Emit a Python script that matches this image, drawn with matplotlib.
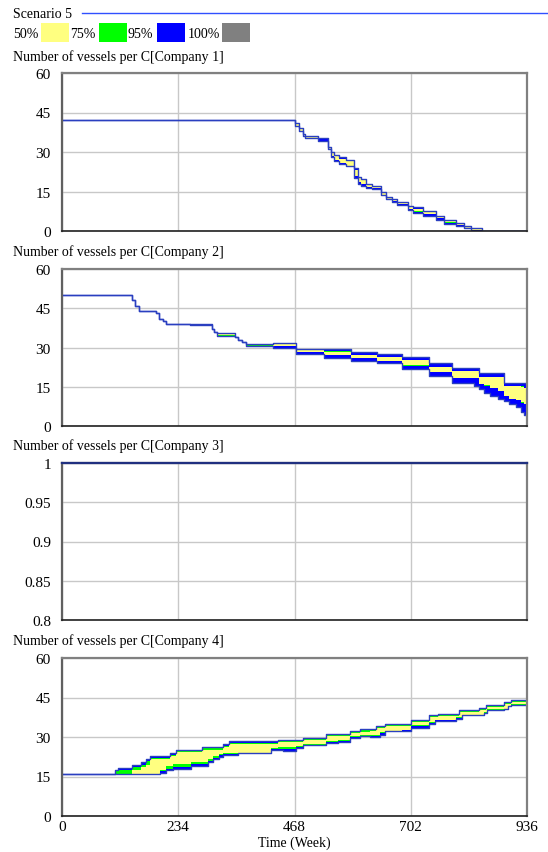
import matplotlib.pyplot as plt
from matplotlib.patches import Rectangle
from matplotlib.lines import Line2D

plt.rcParams['font.family'] = ['Liberation Serif', 'DejaVu Serif']

SCENARIO = "Scenario 5"
BAND_LABELS = ["50%", "75%", "95%", "100%"]
BAND_COLORS = ["#ffff80", "#00ff00", "#0000ff", "#808080"]
TITLES = [
    "Number of vessels per C[Company 1]",
    "Number of vessels per C[Company 2]",
    "Number of vessels per C[Company 3]",
    "Number of vessels per C[Company 4]",
]
X_TICKS = [0, 234, 468, 702, 936]

# Company 1: week of each step, then band edges (hi95, hi75, hi50, lo50, lo75, lo95)
weeks_c1 = [0, 468, 478, 485, 490, 515, 535, 542, 548, 558, 572, 588, 595, 602,
            612, 625, 642, 652, 665, 675, 696, 706, 726, 753, 769, 793, 809,
            823, 846, 936]
c1_hi95 = [42, 41, 39, 37, 36.2, 35.2, 32, 30, 28.7, 28, 27, 24, 20.5, 19.6,
           18, 17.2, 14.8, 12.8, 12.2, 11.2, 9.6, 9, 7.6, 5.6, 4.3, 3.2, 2,
           1.3, 0, 0]
c1_hi75 = [42, 41, 39, 37, 36.2, 35.2, 32, 30, 28.5, 27.5, 26.5, 23, 20, 19.4,
           17.8, 17, 14.5, 12.5, 12, 11, 9.3, 8.5, 7.4, 5.4, 3.8, 2.7, 1.6,
           0.7, 0, 0]
c1_hi50 = [42, 41, 39, 37, 36.2, 35.2, 32, 30, 28.5, 27.5, 26.5, 23, 20, 19.4,
           17.8, 17, 14.5, 12.5, 12, 11, 9.3, 8.5, 7.4, 5.4, 3.8, 2.7, 1.6,
           0.7, 0, 0]
c1_lo50 = [42, 40, 38, 36, 35.2, 35, 31, 28.5, 27, 26, 24.8, 21, 18.5, 17.8,
           16.8, 16.3, 13.8, 12.3, 11.5, 10.2, 8.5, 7.5, 6.6, 4.9, 3.3, 2.3, 1.3,
           0.3, 0, 0]
c1_lo75 = [42, 40, 38, 36, 35.2, 35, 31, 28.5, 27, 26, 24.8, 21, 18.5, 17.8,
           16.8, 16.3, 13.8, 12.3, 11.5, 10.2, 8.5, 7.4, 6.5, 4.8, 3.2, 2.2, 1.2,
           0.2, 0, 0]
c1_lo95 = [42, 40, 38, 36, 35.2, 34.3, 31, 28, 26.5, 25.5, 24.5, 20, 18, 17,
           16.3, 16, 13.5, 12, 11, 10, 8, 6.8, 5.8, 4.2, 2.7, 1.8, 1,
           0, 0, 0]

# Company 2
weeks_c2 = [0, 140, 147, 155, 190, 195, 203, 209, 257, 301, 305, 311, 348, 355,
            362, 371, 425, 471, 528, 582, 635, 685, 739, 786, 830, 840, 850,
            862, 878, 890, 900, 913, 923, 930, 936]
c2_hi95 = [50, 48, 46, 44, 43, 41, 40, 39, 39, 37, 36, 35.5, 34, 33,
           32, 31.5, 31.7, 29.6, 29.4, 28.4, 27.5, 26.4, 24.2, 22.1, 22.1, 20.2, 20.2,
           20.2, 20.2, 16.5, 16.5, 16.5, 16.5, 16.5, 16.5]
c2_hi75 = [50, 48, 46, 44, 43, 41, 40, 39, 39, 37, 36, 35.5, 34, 33,
           32, 31.3, 31.3, 29.5, 28.5, 27.2, 26.4, 25.2, 22.6, 21.0, 21.0, 18.9, 18.9,
           18.9, 18.9, 15.3, 15.3, 15.3, 15.1, 14.6, 14.6]
c2_hi50 = [50, 48, 46, 44, 43, 41, 40, 39, 39, 37, 36, 35.5, 34, 33,
           32, 31.3, 31.2, 29.4, 28.4, 27.1, 26.3, 25.1, 22.5, 20.9, 20.9, 18.8, 18.8,
           18.8, 18.8, 15.2, 15.2, 15.2, 15, 14.5, 14.5]
c2_lo50 = [50, 48, 46, 44, 43, 41, 40, 39, 38.5, 37, 36, 34.6, 34, 33,
           32, 30.8, 30.5, 28.4, 27.1, 26.1, 25, 23.2, 20.6, 18.4, 18.4, 16, 15.5,
           14.5, 13.5, 11.5, 10.5, 10, 9, 8.5, 8.5]
c2_lo75 = [50, 48, 46, 44, 43, 41, 40, 39, 38.5, 37, 36, 34.5, 34, 33,
           32, 30.7, 30.4, 28.3, 27.0, 26.0, 24.9, 23.1, 20.5, 18.3, 18.3, 15.9, 15.4,
           14.4, 13.4, 11.4, 10.4, 9.9, 8.9, 8.4, 8.4]
c2_lo95 = [50, 48, 46, 44, 43, 41, 40, 39, 38.5, 37, 36, 34.5, 34, 33,
           32, 30.7, 29.7, 27.7, 26.1, 25, 23.9, 21.7, 19, 16.5, 15.2, 14, 12.8,
           11.5, 10.2, 9.6, 8.4, 7.1, 5.5, 4.3, 4.3]

# Company 3 stays at one vessel for the whole run
weeks_c3 = [0, 936]
c3_value = [1, 1]

# Company 4
weeks_c4 = [0, 106, 113, 140, 160, 169, 177, 197, 209, 217, 224, 230, 260, 281,
            294, 304, 317, 325, 337, 354, 421, 434, 445, 471, 486, 532, 555,
            580, 600, 620, 632, 640, 650, 684, 702, 739, 750, 756, 793, 800,
            806, 840, 850, 853, 856, 890, 897, 903, 936]
c4_hi95 = [16, 17.5, 18.3, 19.2, 20.5, 21.7, 22.6, 22.6, 22.6, 23.9, 23.9, 25.2, 25.2, 26.2,
           26.2, 26.2, 26.2, 27.2, 28.3, 28.3, 28.3, 29, 29, 29, 29.7, 31.3, 31.3,
           32.2, 32.9, 33.2, 34.2, 34.2, 35.1, 35.1, 36.4, 38.5, 38.5, 38.9, 38.9, 40.2,
           40.2, 41.1, 41.1, 42.1, 42.1, 43.3, 43.3, 44.2, 44.2]
c4_hi75 = [16, 17, 17.3, 18.5, 19.5, 21, 22, 22, 22, 23.3, 23.3, 24.7, 24.7, 25.7,
           25.7, 25.7, 25.7, 26.7, 27.9, 27.9, 27.9, 28.5, 28.5, 28.5, 29.2, 30.8, 30.8,
           31.8, 32.5, 32.8, 33.8, 33.8, 34.7, 34.7, 36, 38.1, 38.1, 38.5, 38.5, 39.8,
           39.8, 40.7, 40.7, 41.7, 41.7, 42.9, 42.9, 43.8, 43.8]
c4_hi50 = [16, 16, 16, 17.5, 18.5, 19.5, 21.5, 21.5, 21.5, 22.8, 22.8, 24.2, 24.2, 25.2,
           25.2, 25.2, 25.2, 26.3, 27.2, 27.2, 27.2, 28, 28, 28, 28.8, 30.3, 30.3,
           31.5, 32, 32.4, 33.4, 33.4, 34.3, 34.3, 35.6, 37.7, 37.7, 38.1, 38.1, 39.4,
           39.4, 40.3, 40.3, 41.3, 41.3, 42.5, 42.5, 43.4, 43.4]
c4_lo50 = [16, 16, 16, 16, 16, 16, 16, 17.5, 19, 19, 19.6, 19.6, 20.5, 20.5,
           21.5, 22.6, 23.5, 23.9, 24, 24.1, 26, 26.2, 26.2, 26.5, 27.2, 28.3, 28.8,
           30.4, 30.8, 30.8, 30.8, 31.9, 32.2, 32.8, 34.4, 35.6, 36.6, 36.6, 37.6, 37.6,
           38.5, 38.5, 39.5, 39.5, 40.5, 40.8, 41.9, 42.5, 42.5]
c4_lo75 = [16, 16, 16, 16, 16, 16, 16, 17, 18, 18, 18.6, 18.6, 19.8, 19.8,
           21, 22, 23, 23.6, 23.5, 24, 25.4, 25.4, 25.4, 26.2, 27, 28, 28.5,
           30, 30.5, 30.4, 30.4, 31.4, 32.2, 32.6, 34, 35.2, 36.3, 36.3, 37.3, 37.3,
           38.5, 38.5, 39.3, 39.3, 40.3, 40.8, 41.9, 42.3, 42.3]
c4_lo95 = [16, 16, 16, 16, 16, 16, 16, 16.5, 17.5, 17.5, 17.8, 17.8, 18.9, 18.9,
           20.5, 21.5, 22.5, 23.3, 23, 24, 24.9, 24.9, 24.8, 26, 26.8, 27.7, 28.1,
           29.8, 30.2, 30, 30, 30.9, 32.2, 32.4, 33.6, 34.9, 36, 36, 37, 37,
           38.5, 38.5, 39.3, 39.3, 40.2, 40.8, 41.9, 42.1, 42.1]

FIG_W, FIG_H = 548, 853
AX_LEFT, AX_RIGHT = 62, 527
PANEL_ROWS = [(74, 232), (270, 427), (464, 621), (659, 817)]
TITLE_Y = [57, 252, 446, 641]


def fx(px):
    return px / FIG_W


def fy(py):
    return 1 - py / FIG_H


def style_axes(ax, yticks, ylabels, show_x):
    ax.set_xlim(0, 936)
    ax.set_ylim(yticks[0], yticks[-1])
    ax.set_xticks(X_TICKS)
    ax.set_yticks(yticks)
    ax.set_yticklabels(ylabels)
    if show_x:
        ax.set_xticklabels([str(t) for t in X_TICKS])
    else:
        ax.set_xticklabels([])
    ax.grid(True, color="#c8c8c8", linewidth=1.0)
    ax.set_axisbelow(True)
    ax.tick_params(length=0, labelsize=11)
    ax.tick_params(axis="y", pad=8)
    ax.tick_params(axis="x", pad=3)
    ax.spines["left"].set_color("#606060")
    ax.spines["left"].set_linewidth(1.6)
    ax.spines["bottom"].set_color("#202020")
    ax.spines["bottom"].set_linewidth(1.2)
    for side in ("top", "right"):
        ax.spines[side].set_color("#808080")
        ax.spines[side].set_linewidth(1.6)


def draw_bands(ax, weeks, hi95, hi75, hi50, lo50, lo75, lo95):
    ax.fill_between(weeks, lo95, hi95, step="post", color="#0000ff", linewidth=0)
    ax.fill_between(weeks, lo75, hi75, step="post", color="#00ff00", linewidth=0)
    ax.fill_between(weeks, lo50, hi50, step="post", color="#ffff80", linewidth=0)
    ax.step(weeks, hi95, where="post", color="#2a3fc0", linewidth=1.0)
    ax.step(weeks, lo95, where="post", color="#2a3fc0", linewidth=1.0)


fig = plt.figure(figsize=(FIG_W / 100, FIG_H / 100), dpi=100)

# header: scenario line and band legend
fig.text(fx(13), fy(15), SCENARIO, fontsize=10, va="center", ha="left")
fig.add_artist(Line2D([fx(82), fx(548)], [fy(14), fy(14)], color="#3050ff",
                      linewidth=1.0, transform=fig.transFigure))
label_x = [13, 70, 128, 188]
box_x = [41, 99, 157, 222]
for lab, col, lx, bx in zip(BAND_LABELS, BAND_COLORS, label_x, box_x):
    fig.text(fx(lx), fy(34), lab, fontsize=10, va="center", ha="left")
    fig.add_artist(Rectangle((fx(bx), fy(42.5)), fx(28), 18.5 / FIG_H,
                             facecolor=col, edgecolor="none",
                             transform=fig.transFigure))

axes = []
for (top, bot), title, ty in zip(PANEL_ROWS, TITLES, TITLE_Y):
    ax = fig.add_axes([fx(AX_LEFT), fy(bot), fx(AX_RIGHT - AX_LEFT),
                       (bot - top) / FIG_H])
    fig.text(fx(13), fy(ty), title, fontsize=10, va="center", ha="left")
    axes.append(ax)

count_ticks = [0, 15, 30, 45, 60]
count_labels = ["0", "15", "30", "45", "60"]

draw_bands(axes[0], weeks_c1, c1_hi95, c1_hi75, c1_hi50, c1_lo50, c1_lo75, c1_lo95)
style_axes(axes[0], count_ticks, count_labels, False)

draw_bands(axes[1], weeks_c2, c2_hi95, c2_hi75, c2_hi50, c2_lo50, c2_lo75, c2_lo95)
style_axes(axes[1], count_ticks, count_labels, False)

axes[2].step(weeks_c3, c3_value, where="post", color="#203080", linewidth=1.6,
             clip_on=False, zorder=5)
style_axes(axes[2], [0.8, 0.85, 0.9, 0.95, 1.0],
           ["0.8", "0.85", "0.9", "0.95", "1"], False)

draw_bands(axes[3], weeks_c4, c4_hi95, c4_hi75, c4_hi50, c4_lo50, c4_lo75, c4_lo95)
style_axes(axes[3], count_ticks, count_labels, True)
axes[3].set_xlabel("Time (Week)", fontsize=10, labelpad=2)

fig.savefig("out.png", dpi=100)
